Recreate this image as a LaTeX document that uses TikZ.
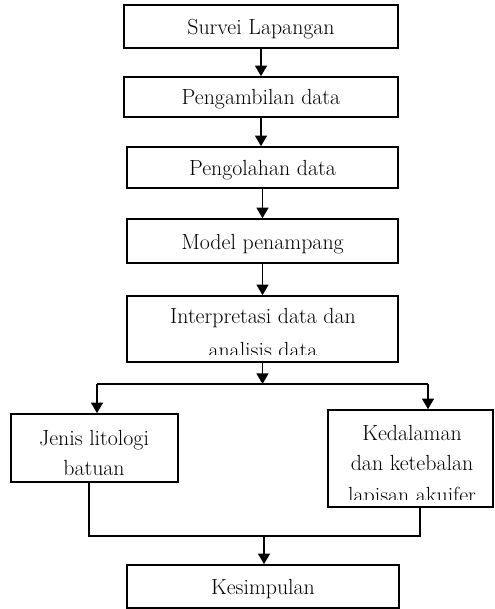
\documentclass[tikz,border=0pt]{standalone}
\usetikzlibrary{arrows.meta}
\begin{document}
\begin{tikzpicture}[x=0.75pt,y=-0.75pt,
  box/.style={draw, line width=1.2pt, inner sep=0pt, align=center,
    font=\fontsize{16.4}{19}\selectfont, text height=12pt, text depth=0pt},
  lbl/.style={anchor=base, inner sep=0pt, font=\fontsize{16.4}{19}\selectfont},
  conn/.style={line width=1.2pt},
  arr/.style={line width=1.2pt, -{Triangle[width=9pt,length=8pt]}}]
\useasboundingbox (0,0) rectangle (494,609);

% boxes
\node[box, minimum width=205.5pt, minimum height=32.25pt] (b1) at (261,26.5) {Survei Lapangan};
\node[box, minimum width=205.5pt, minimum height=30pt] (b2) at (261,97) {Pengambilan data};
\node[box, minimum width=203.25pt, minimum height=30.75pt] (b3) at (262.5,167.5) {Pengolahan data};
\node[box, minimum width=203.25pt, minimum height=33pt] (b4) at (262.5,241) {Model penampang};
\node[box, minimum width=203.25pt, minimum height=49.5pt] (b5) at (262.5,329) {};
\node[box, minimum width=125.25pt, minimum height=51pt] (L) at (94.5,448) {};
\node[box, minimum width=123.75pt, minimum height=72.75pt] (R) at (410.5,458.5) {};
\node[box, minimum width=204pt, minimum height=32.25pt] (K) at (263,586.5) {Kesimpulan};

% multi-line texts (clipped by their boxes)
\begin{scope}
  \clip (b5.north west) rectangle ([yshift=6.5pt]b5.south east);
  \node[lbl] (t5a) at (263,323) {Interpretasi data dan};
  \node[lbl] (t5b) at (263,357) {analisis data};
\end{scope}
\node[lbl] (tLa) at (94,445) {Jenis litologi};
\node[lbl] (tLb) at (94,475) {batuan};
\begin{scope}
  \clip (R.north west) rectangle ([yshift=6pt]R.south east);
  \node[lbl] (tRa) at (412,440) {Kedalaman};
  \node[lbl] (tRb) at (412,470) {dan ketebalan};
  \node[lbl] (tRc) at (412,502) {lapisan akuifer};
\end{scope}

% connectors
\draw[arr] (b1.south) -- (b2.north);
\draw[arr] (b2.south) -- (b2.south |- b3.north);
\draw[arr] (b3.south) -- (b4.north);
\draw[arr] (b4.south) -- (b5.north);

\coordinate (j) at (262.5,384);
\coordinate (jl) at (97,384);
\coordinate (jr) at (428,384);
\draw[arr] (b5.south) -- (j);
\draw[conn] (jl) -- (jr);
\draw[arr] (jl) -- (jl |- L.north);
\draw[arr] (jr) -- (jr |- R.north);

\coordinate (ml) at (89,536);
\coordinate (mr) at (420,536);
\coordinate (mm) at (264,536);
\draw[conn] (L.south -| ml) -- (ml) -- (mr) -- (R.south -| mr);
\draw[arr] (mm) -- (mm |- K.north);
\end{tikzpicture}
\end{document}
